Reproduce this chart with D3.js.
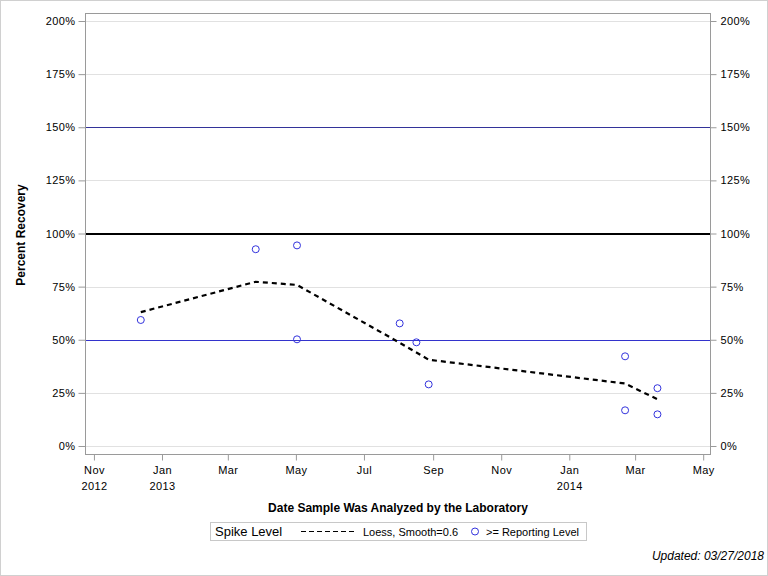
<!DOCTYPE html>
<html>
<head>
<meta charset="utf-8">
<script src="https://cdn.jsdelivr.net/npm/d3@7"></script>
<style>
  html, body { margin: 0; padding: 0; background: #fff; }
  svg { display: block; font-family: "Liberation Sans", Arial, sans-serif; }
</style>
</head>
<body>
<svg id="chart" width="768" height="576"></svg>
<script>
// ---- data ----
const sampleDates = ["2012-12-13","2013-03-26","2013-05-02","2013-05-02","2013-08-02","2013-08-17","2013-08-28","2014-02-20","2014-02-20","2014-03-21","2014-03-21"];
const recovery    = [59.3, 92.6, 94.4, 50.2, 57.7, 48.8, 29.0, 42.2, 16.8, 27.2, 14.9];
const loessDates  = ["2012-12-13","2013-03-26","2013-05-02","2013-08-02","2013-08-17","2013-08-28","2014-02-20","2014-03-21"];
const loessValues = [63.0, 77.3, 75.8, 48.6, 44.0, 40.6, 29.4, 22.0];
const yTicks = [0, 25, 50, 75, 100, 125, 150, 175, 200];
const xTickDates = ["2012-11-01","2013-01-01","2013-03-01","2013-05-01","2013-07-01","2013-09-01","2013-11-01","2014-01-01","2014-03-01","2014-05-01"];
const refLines = [
  {value: 150, color: "#333399", width: 1},
  {value: 100, color: "#000000", width: 2},
  {value: 50,  color: "#3333cc", width: 1}
];

const parse = d3.timeParse("%Y-%m-%d");
const svg = d3.select("#chart");

// outer border
svg.append("rect").attr("x",0.5).attr("y",0.5).attr("width",767).attr("height",575)
  .attr("fill","#fff").attr("stroke","#d0d0d0");

const L = 85, R = 711, T = 13, B = 454;
const x = d3.scaleTime().domain([parse("2012-10-24"), parse("2014-05-08")]).range([L, R]);
const y = d3.scaleLinear().domain([0, 200]).range([446, 21]);

// gridlines
svg.append("g").selectAll("line").data(yTicks).join("line")
  .attr("x1", L).attr("x2", R)
  .attr("y1", d => Math.round(y(d)) + 0.5).attr("y2", d => Math.round(y(d)) + 0.5)
  .attr("stroke", "#e1e1e1");

// reference lines
svg.append("g").selectAll("line").data(refLines).join("line")
  .attr("x1", L).attr("x2", R)
  .attr("y1", d => Math.round(y(d.value)) + (d.width === 1 ? 0.5 : 0))
  .attr("y2", d => Math.round(y(d.value)) + (d.width === 1 ? 0.5 : 0))
  .attr("stroke", d => d.color).attr("stroke-width", d => d.width);

// frame
svg.append("rect").attr("x", L + 0.5).attr("y", T + 0.5).attr("width", R - L - 1).attr("height", B - T)
  .attr("fill", "none").attr("stroke", "#9a9a9a");

// left / right y axes
const yAxisL = d3.axisLeft(y).tickValues(yTicks).tickFormat(d => d + "%").tickSize(7).tickPadding(3);
const gL = svg.append("g").attr("transform", `translate(${L + 0.5},0)`).call(yAxisL);
const yAxisR = d3.axisRight(y).tickValues(yTicks).tickFormat(d => d + "%").tickSize(6).tickPadding(4);
const gR = svg.append("g").attr("transform", `translate(${R - 0.5},0)`).call(yAxisR);
[gL, gR].forEach(g => {
  g.select(".domain").remove();
  g.selectAll(".tick line").attr("stroke", "#9a9a9a");
  g.selectAll(".tick text").attr("fill", "#000").style("font-size", "11px")
    .style("font-family", '"Liberation Sans", Arial, sans-serif').style("letter-spacing", "0.4px");
});

// x axis
const fmtMonth = d3.timeFormat("%b");
const xAxis = d3.axisBottom(x).tickValues(xTickDates.map(parse)).tickFormat(fmtMonth).tickSize(6).tickPadding(6);
const gX = svg.append("g").attr("transform", `translate(0,${B + 0.5})`).call(xAxis);
gX.select(".domain").remove();
gX.selectAll(".tick line").attr("stroke", "#9a9a9a");
gX.selectAll(".tick text").attr("fill", "#000").style("font-size", "11px")
  .style("font-family", '"Liberation Sans", Arial, sans-serif').style("letter-spacing", "0.4px");
const firstTick = gX.selectAll(".tick").data()[0];
gX.selectAll(".tick").each(function(d) {
  if (d.getMonth() === 0 || d === firstTick) {
    d3.select(this).append("text").attr("fill", "#000").attr("y", 28).attr("dy", "0.71em")
      .attr("text-anchor", "middle").style("font-size", "11px").style("letter-spacing", "0.4px")
      .style("font-family", '"Liberation Sans", Arial, sans-serif')
      .text(d.getFullYear());
  }
});

// loess line
const line = d3.line().x(d => x(d[0])).y(d => y(d[1]));
svg.append("path").datum(loessDates.map((d, i) => [parse(d), loessValues[i]]))
  .attr("d", line).attr("fill", "none").attr("stroke", "#000")
  .attr("stroke-width", 2.2).attr("stroke-dasharray", "5,4");

// points
svg.append("g").selectAll("circle").data(sampleDates.map((d, i) => [parse(d), recovery[i]])).join("circle")
  .attr("cx", d => x(d[0])).attr("cy", d => y(d[1])).attr("r", 3.5)
  .attr("fill", "none").attr("stroke", "#3333dd").attr("stroke-width", 1);

// axis titles
svg.append("text").attr("x", 398).attr("y", 512).attr("text-anchor", "middle")
  .style("font-size", "12px").style("font-weight", "bold").text("Date Sample Was Analyzed by the Laboratory");
svg.append("text").attr("transform", "translate(25,235) rotate(-90)").attr("text-anchor", "middle")
  .style("font-size", "12px").style("font-weight", "bold").text("Percent Recovery");

// legend
const lg = svg.append("g");
lg.append("rect").attr("x", 210.5).attr("y", 522.5).attr("width", 376).attr("height", 18)
  .attr("fill", "none").attr("stroke", "#c8c8c8");
lg.append("text").attr("x", 215).attr("y", 536).style("font-size", "13px").text("Spike Level");
lg.append("line").attr("x1", 301).attr("x2", 357).attr("y1", 531.5).attr("y2", 531.5)
  .attr("stroke", "#000").attr("stroke-width", 1).attr("stroke-dasharray", "5,3");
lg.append("text").attr("x", 363).attr("y", 535.5).style("font-size", "11px").text("Loess, Smooth=0.6");
lg.append("circle").attr("cx", 475).attr("cy", 531.5).attr("r", 3.5)
  .attr("fill", "none").attr("stroke", "#3333dd");
lg.append("text").attr("x", 486).attr("y", 535.5).style("font-size", "11px").text(">= Reporting Level");

// footnote
svg.append("text").attr("x", 764).attr("y", 560).attr("text-anchor", "end")
  .style("font-size", "12px").style("font-style", "italic").text("Updated: 03/27/2018");
</script>
</body>
</html>
